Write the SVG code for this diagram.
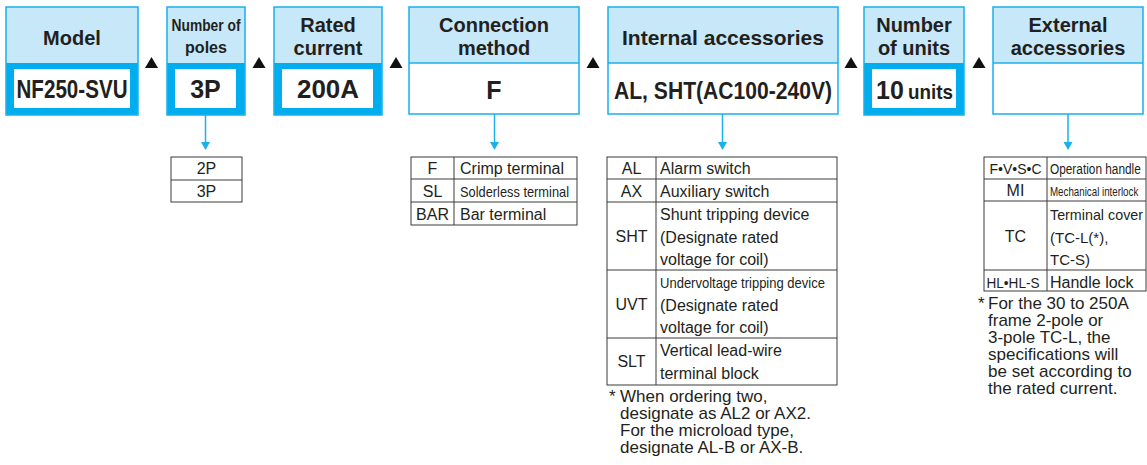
<svg xmlns="http://www.w3.org/2000/svg" width="1147" height="465" viewBox="0 0 1147 465">
<style>
.hd{fill:#c6e8f8}
.ol{fill:none;stroke:#1ab0ea;stroke-width:1.5}
.thick{fill:#00aeef}
.wh{fill:#fff}
.ht{font-family:"Liberation Sans",Arial,sans-serif;font-weight:bold;font-size:20px;fill:#231f20;text-anchor:middle}
.vt{font-family:"Liberation Sans",Arial,sans-serif;font-weight:bold;font-size:25px;fill:#231f20;text-anchor:middle}
.tb{fill:none;stroke:#3a3a3a;stroke-width:1}
.t{font-family:"Liberation Sans",Arial,sans-serif;font-size:16px;fill:#231f20}
.n{font-size:17px}
.c{text-anchor:middle}
.tri{fill:#111}
.con{stroke:#1ab0ea;stroke-width:1.5;fill:none}
.ah{fill:#1ab0ea}
</style>

<g id="separators">
<polygon class="tri" points="145,68 158,68 151.5,57"/>
<polygon class="tri" points="252.5,68 265.5,68 259,57"/>
<polygon class="tri" points="389.5,68 402.5,68 396,57"/>
<polygon class="tri" points="586.5,68 599.5,68 593,57"/>
<polygon class="tri" points="844.5,68 857.5,68 851,57"/>
<polygon class="tri" points="972.5,68 985.5,68 979,57"/>
</g>

<g id="model">
<rect class="hd" x="6" y="7" width="132" height="56"/>
<rect class="thick" x="6" y="63" width="132" height="52"/>
<rect class="wh" x="14" y="69" width="116" height="39"/>
<rect class="ol" x="6" y="7" width="132" height="108"/>
<text class="ht" x="72" y="45">Model</text>
<text class="vt" x="72" y="98" textLength="111" lengthAdjust="spacingAndGlyphs">NF250-SVU</text>
</g>

<g id="poles">
<rect class="hd" x="167" y="7" width="78" height="56"/>
<rect class="thick" x="167" y="63" width="78" height="52"/>
<rect class="wh" x="175" y="69" width="61" height="39"/>
<rect class="ol" x="167" y="7" width="78" height="108"/>
<text class="ht" x="206" y="31" textLength="69" lengthAdjust="spacingAndGlyphs" style="font-size:17px">Number of</text>
<text class="ht" x="206" y="53" style="font-size:17px" textLength="42" lengthAdjust="spacingAndGlyphs">poles</text>
<text class="vt" x="205.5" y="98">3P</text>
</g>

<g id="rated">
<rect class="hd" x="274" y="7" width="108" height="56"/>
<rect class="thick" x="274" y="63" width="108" height="52"/>
<rect class="wh" x="282" y="69" width="91" height="39"/>
<rect class="ol" x="274" y="7" width="108" height="108"/>
<text class="ht" x="328" y="32">Rated</text>
<text class="ht" x="328" y="55">current</text>
<text class="vt" x="328" y="98" textLength="62" lengthAdjust="spacingAndGlyphs">200A</text>
</g>

<g id="connection">
<rect class="hd" x="409" y="7" width="170" height="56"/>
<rect class="wh" x="409" y="63" width="170" height="51"/>
<line class="ol" x1="409" y1="63" x2="579" y2="63"/>
<rect class="ol" x="409" y="7" width="170" height="107"/>
<text class="ht" x="494" y="32">Connection</text>
<text class="ht" x="494" y="55">method</text>
<text class="vt" x="494" y="99">F</text>
</g>

<g id="internal">
<rect class="hd" x="608" y="7" width="230" height="56"/>
<rect class="wh" x="608" y="63" width="230" height="51"/>
<line class="ol" x1="608" y1="63" x2="838" y2="63"/>
<rect class="ol" x="608" y="7" width="230" height="107"/>
<text class="ht" x="723" y="45" style="font-size:21px">Internal accessories</text>
<text class="vt" x="723" y="99" style="font-size:24px" textLength="218" lengthAdjust="spacingAndGlyphs">AL, SHT(AC100-240V)</text>
</g>

<g id="units">
<rect class="hd" x="864" y="7" width="100" height="56"/>
<rect class="thick" x="864" y="63" width="100" height="52"/>
<rect class="wh" x="872" y="69" width="84" height="39"/>
<rect class="ol" x="864" y="7" width="100" height="108"/>
<text class="ht" x="914" y="32">Number</text>
<text class="ht" x="914" y="55">of units</text>
<text class="vt" x="890" y="99">10</text>
<text class="vt" x="930.5" y="99" style="font-size:21px" textLength="45" lengthAdjust="spacingAndGlyphs">units</text>
</g>

<g id="external">
<rect class="hd" x="993" y="7" width="150" height="56"/>
<rect class="wh" x="993" y="63" width="150" height="51"/>
<line class="ol" x1="993" y1="63" x2="1143" y2="63"/>
<rect class="ol" x="993" y="7" width="150" height="107"/>
<text class="ht" x="1068" y="32">External</text>
<text class="ht" x="1068" y="55">accessories</text>
</g>

<g id="connectors">
<line class="con" x1="205.5" y1="115" x2="205.5" y2="143"/>
<polygon class="ah" points="201,142 210,142 205.5,150"/>
<line class="con" x1="494.5" y1="114" x2="494.5" y2="143"/>
<polygon class="ah" points="490,142 499,142 494.5,150"/>
<line class="con" x1="722.5" y1="114" x2="722.5" y2="143"/>
<polygon class="ah" points="718,142 727,142 722.5,150"/>
<line class="con" x1="1068" y1="114" x2="1068" y2="143"/>
<polygon class="ah" points="1063.5,142 1072.5,142 1068,150"/>
</g>

<g id="poles-table">
<rect class="tb" x="171" y="157" width="71" height="45"/>
<line class="tb" x1="171" y1="180" x2="242" y2="180"/>
<text class="t c" x="206.5" y="174">2P</text>
<text class="t c" x="206.5" y="197">3P</text>
</g>

<g id="connection-table">
<rect class="tb" x="411" y="157" width="166" height="68"/>
<line class="tb" x1="411" y1="179" x2="577" y2="179"/>
<line class="tb" x1="411" y1="202" x2="577" y2="202"/>
<line class="tb" x1="454" y1="157" x2="454" y2="225"/>
<text class="t c" x="432.5" y="174">F</text>
<text class="t c" x="432.5" y="197">SL</text>
<text class="t c" x="432.5" y="220">BAR</text>
<text class="t" x="460" y="174">Crimp terminal</text>
<text class="t" x="460" y="197" style="font-size:15px" textLength="109" lengthAdjust="spacingAndGlyphs">Solderless terminal</text>
<text class="t" x="460" y="220">Bar terminal</text>
</g>

<g id="internal-table">
<rect class="tb" x="607" y="157" width="230" height="228"/>
<line class="tb" x1="607" y1="179" x2="837" y2="179"/>
<line class="tb" x1="607" y1="202" x2="837" y2="202"/>
<line class="tb" x1="607" y1="270" x2="837" y2="270"/>
<line class="tb" x1="607" y1="338" x2="837" y2="338"/>
<line class="tb" x1="656" y1="157" x2="656" y2="385"/>
<text class="t c" x="631.5" y="174">AL</text>
<text class="t c" x="631.5" y="197">AX</text>
<text class="t c" x="631.5" y="242">SHT</text>
<text class="t c" x="631.5" y="310">UVT</text>
<text class="t c" x="631.5" y="367">SLT</text>
<text class="t" x="660" y="174">Alarm switch</text>
<text class="t" x="660" y="197">Auxiliary switch</text>
<text class="t" x="660" y="220">Shunt tripping device</text>
<text class="t" x="660" y="243">(Designate rated</text>
<text class="t" x="660" y="265">voltage for coil)</text>
<text class="t" x="660" y="288" style="font-size:15px" textLength="165" lengthAdjust="spacingAndGlyphs">Undervoltage tripping device</text>
<text class="t" x="660" y="311">(Designate rated</text>
<text class="t" x="660" y="333">voltage for coil)</text>
<text class="t" x="660" y="356">Vertical lead-wire</text>
<text class="t" x="660" y="379">terminal block</text>
</g>

<g id="internal-note">
<text class="t n" x="609" y="402">*</text>
<text class="t n" x="620" y="402">When ordering two,</text>
<text class="t n" x="620" y="419">designate as AL2 or AX2.</text>
<text class="t n" x="620" y="436">For the microload type,</text>
<text class="t n" x="620" y="453">designate AL-B or AX-B.</text>
</g>

<g id="external-table">
<rect class="tb" x="984" y="157" width="162" height="134"/>
<line class="tb" x1="984" y1="179" x2="1146" y2="179"/>
<line class="tb" x1="984" y1="201" x2="1146" y2="201"/>
<line class="tb" x1="984" y1="270" x2="1146" y2="270"/>
<line class="tb" x1="1047" y1="157" x2="1047" y2="291"/>
<text class="t c" x="1015.5" y="174" style="font-size:15px" textLength="52" lengthAdjust="spacingAndGlyphs">F•V•S•C</text>
<text class="t c" x="1015.5" y="196">MI</text>
<text class="t c" x="1015.5" y="242">TC</text>
<text class="t c" x="1013" y="288" style="font-size:15px" textLength="53" lengthAdjust="spacingAndGlyphs">HL•HL-S</text>
<text class="t" transform="translate(1050,174) scale(0.79,1)" style="font-size:15px">Operation handle</text>
<text class="t" transform="translate(1050,196) scale(0.75,1)" style="font-size:13px">Mechanical interlock</text>
<text class="t" x="1050" y="220" style="font-size:15px" textLength="93" lengthAdjust="spacingAndGlyphs">Terminal cover</text>
<text class="t" x="1050" y="243" style="font-size:15px">(TC-L(*),</text>
<text class="t" x="1050" y="265" style="font-size:15px">TC-S)</text>
<text class="t" x="1050" y="288">Handle lock</text>
</g>

<g id="external-note">
<text class="t n" x="978" y="309">*</text>
<text class="t n" x="988" y="309">For the 30 to 250A</text>
<text class="t n" x="988" y="326">frame 2-pole or</text>
<text class="t n" x="988" y="343">3-pole TC-L, the</text>
<text class="t n" x="988" y="360">specifications will</text>
<text class="t n" x="988" y="377">be set according to</text>
<text class="t n" x="988" y="394">the rated current.</text>
</g>
</svg>
